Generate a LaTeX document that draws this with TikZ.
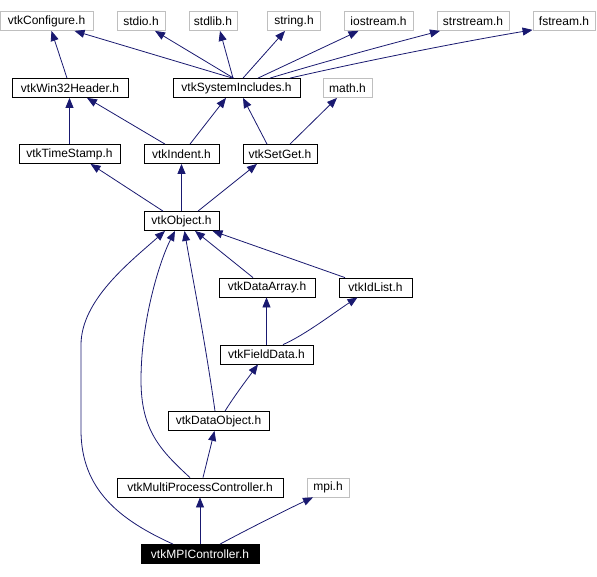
\documentclass[tikz,border=0pt]{standalone}
\usepackage{fontspec}
\setmainfont{Liberation Sans}
\usetikzlibrary{arrows.meta}
\definecolor{edgeblue}{RGB}{25,25,112}
\definecolor{boxgray}{RGB}{191,191,191}

\begin{document}
\begin{tikzpicture}[
        x=1pt, y=-1pt,
        font=\fontsize{12}{14}\selectfont,
        header/.style={
            draw=black,
            line width=0.8pt,
            minimum height=19pt,
            inner sep=0pt
        },
        sysheader/.style={header, draw=boxgray},
        current/.style={header, fill=black, text=white},
        arrow/.style={
            -{Triangle[length=10pt,width=8pt]},
            draw=edgeblue,
            line width=0.8pt
        }
    ]

    \useasboundingbox (0,0) rectangle (597,576);

    \node[sysheader, minimum width=93pt] (conf) at (46.5,21) {vtkConfigure.h};
    \node[sysheader, minimum width=48pt] (stdio) at (141,21) {stdio.h};
    \node[sysheader, minimum width=48pt] (stdlib) at (213,21) {stdlib.h};
    \node[sysheader, minimum width=53pt] (string) at (294,21) {string.h};
    \node[sysheader, minimum width=69pt] (iostream) at (378.5,21) {iostream.h};
    \node[sysheader, minimum width=72pt] (strstream) at (473,21) {strstream.h};
    \node[sysheader, minimum width=62pt] (fstream) at (564,21) {fstream.h};

    \node[header, minimum width=116pt] (win) at (70,88) {vtkWin32Header.h};
    \node[header, minimum width=127pt] (sys) at (236.5,88) {vtkSystemIncludes.h};
    \node[sysheader, minimum width=49pt] (math) at (347.5,88) {math.h};

    \node[header, minimum width=101pt] (time) at (69.5,154) {vtkTimeStamp.h};
    \node[header, minimum width=75pt] (indent) at (181.5,154) {vtkIndent.h};
    \node[header, minimum width=74pt] (setget) at (280,154) {vtkSetGet.h};

    \node[header, minimum width=75pt] (object) at (181.5,221) {vtkObject.h};

    \node[header, minimum width=96pt] (darray) at (267,287.5) {vtkDataArray.h};
    \node[header, minimum width=73pt] (idlist) at (375.5,287.5) {vtkIdList.h};
    \node[header, minimum width=93pt] (fdata) at (266.5,354.5) {vtkFieldData.h};
    \node[header, minimum width=101pt] (dobj) at (218.5,421) {vtkDataObject.h};

    \node[header, minimum width=166pt] (mpc) at (200,487.5) {vtkMultiProcessController.h};
    \node[sysheader, minimum width=42pt] (mpi) at (328,487.5) {mpi.h};
    \node[current, minimum width=118pt] (mpic) at (200,554) {vtkMPIController.h};

    \draw[arrow] ([xshift=-3pt]win.north) -- ([xshift=5pt]conf.south);
    \draw[arrow] ([xshift=-4pt]sys.north) -- ([xshift=28pt]conf.south);
    \draw[arrow] ([xshift=-3pt]sys.north) -- ([xshift=14pt]stdio.south);
    \draw[arrow] ([xshift=-3.5pt]sys.north) -- ([xshift=7pt]stdlib.south);
    \draw[arrow] ([xshift=6.5pt]sys.north) -- ([xshift=-9pt]string.south);
    \draw[arrow] ([xshift=21.5pt]sys.north) -- ([xshift=-20pt]iostream.south);
    \draw[arrow] ([xshift=33.5pt]sys.north)
        .. controls (330,60) and (390,44) .. ([xshift=-33pt]strstream.south);
    \draw[arrow] ([xshift=53.5pt]sys.north)
        .. controls (360,62) and (460,42) .. ([yshift=1pt]fstream.south west);

    \draw[arrow] (time.north) -- (time.north |- win.south);
    \draw[arrow] ([xshift=-16.5pt]indent.north) -- ([xshift=17pt]win.south);
    \draw[arrow] ([xshift=8.5pt]indent.north) -- ([xshift=-10.5pt]sys.south);
    \draw[arrow] ([xshift=-13pt]setget.north) -- ([xshift=6.5pt]sys.south);
    \draw[arrow] ([xshift=10pt]setget.north) -- ([xshift=-10.5pt]math.south);

    \draw[arrow] ([xshift=-18.5pt]object.north) -- ([xshift=21pt]time.south);
    \draw[arrow] (object) -- (indent);
    \draw[arrow] ([xshift=16.5pt]object.north) -- ([xshift=-23pt]setget.south);

    \draw[arrow] ([xshift=-14pt]darray.north) -- ([xshift=13.5pt]object.south);
    \draw[arrow] ([xshift=-30.5pt]idlist.north) -- ([xshift=31pt]object.south);
    \draw[arrow] (fdata.north) -- (fdata.north |- darray.south);
    \draw[arrow] ([xshift=16.5pt]fdata.north)
        .. controls (305,335) and (335,312) .. ([xshift=-18pt]idlist.south);
    \draw[arrow] ([xshift=6.5pt]dobj.north)
        .. controls (235,395) and (248,378) .. ([xshift=-8.5pt]fdata.south);
    \draw[arrow] ([xshift=-3.5pt]dobj.north)
        .. controls (205,340) and (192,275) .. ([xshift=3pt]object.south);

    \draw[arrow] ([xshift=3pt]mpc.north) -- ([xshift=-4pt]dobj.south);
    \draw[arrow] ([xshift=-10pt]mpc.north)
        .. controls (160,450) and (141,430) .. (141,380)
        .. controls (141,320) and (160,260) .. ([xshift=-6.5pt]object.south);
    \draw[arrow] ([xshift=-27pt]mpic.north)
        .. controls (120,520) and (81,490) .. (81,430) -- (81,345)
        .. controls (81,300) and (130,262) .. ([xshift=-16.5pt]object.south);
    \draw[arrow] (mpic) -- (mpc);
    \draw[arrow] ([xshift=20pt]mpic.north)
        .. controls (250,528) and (290,508) .. ([xshift=-15pt]mpi.south);

\end{tikzpicture}
\end{document}
